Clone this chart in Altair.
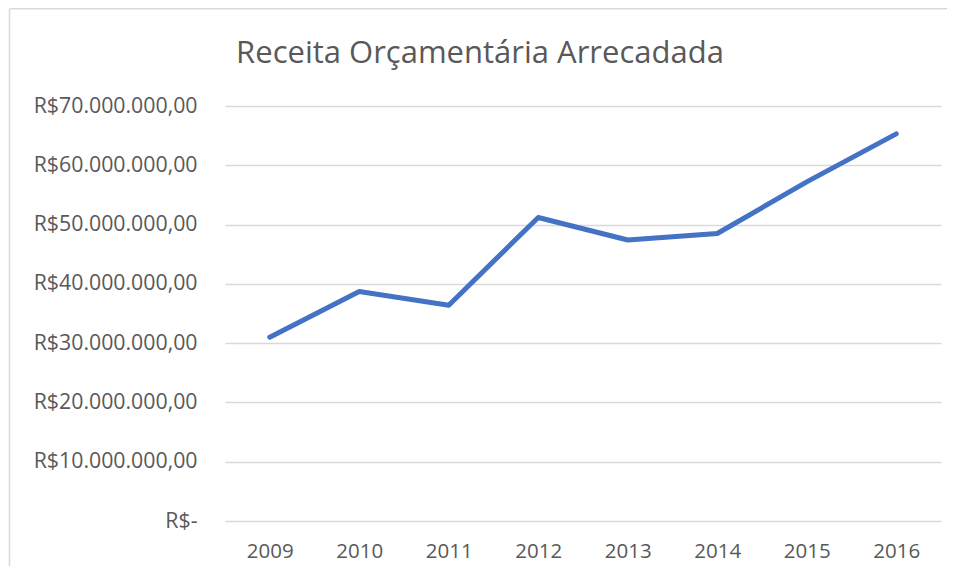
import altair as alt
import pandas as pd

years = ["2009", "2010", "2011", "2012", "2013", "2014", "2015", "2016"]
receita = [31.0e6, 38.7e6, 36.4e6, 51.2e6, 47.4e6, 48.5e6, 57.2e6, 65.3e6]
y_ticks = [0, 10e6, 20e6, 30e6, 40e6, 50e6, 60e6, 70e6]
title_text = "Receita Orçamentária Arrecadada"

df = pd.DataFrame({"ano": years, "valor": receita})

FONT = "Open Sans"
GRAY = "#595959"
BORDER = "#d9d9d9"

base = alt.Chart(df)

line = base.mark_line(color="#4472C4", strokeWidth=5, strokeCap="round", strokeJoin="round").encode(
    x=alt.X("ano:O", sort=years, scale=alt.Scale(padding=0.5),
            axis=alt.Axis(title=None, labelAngle=0, domain=False, ticks=False,
                          labelPadding=20, labelFontSize=20.5, labelFont=FONT,
                          labelColor=GRAY, grid=False)),
    y=alt.Y("valor:Q", scale=alt.Scale(domain=[0, 70e6], nice=False),
            axis=alt.Axis(title=None, values=y_ticks, domain=False, ticks=False,
                          labelPadding=28, labelFontSize=21.3, labelFont=FONT,
                          labelColor=GRAY, gridColor="#d9d9d9", gridWidth=1.5,
                          labelExpr="datum.value == 0 ? 'R$-' : 'R$' + (datum.value / 1000000) + '.000.000,00'")),
)

title_df = pd.DataFrame({"t": [title_text]})
title = alt.Chart(title_df).mark_text(
    font=FONT, fontSize=31, color=GRAY, align="center", baseline="alphabetic"
).encode(text="t:N", x=alt.value(480 - 225), y=alt.value(63 - 106))

border_df = pd.DataFrame({"b": [1]})
left_border = alt.Chart(border_df).mark_rule(color=BORDER, strokeWidth=1.5).encode(
    x=alt.value(9.5 - 225), y=alt.value(8.8 - 106), y2=alt.value(600))
top_border = alt.Chart(border_df).mark_rule(color=BORDER, strokeWidth=1.5).encode(
    x=alt.value(9.5 - 225), x2=alt.value(800), y=alt.value(8.8 - 106))

chart = alt.layer(left_border, top_border, line, title).properties(
    width=716, height=415,
    autosize=alt.AutoSizeParams(type="none"),
    padding={"left": 217, "top": 98, "right": 6, "bottom": 45},
).configure(background="white").configure_view(stroke=None)

chart.save("out.html", embed_options={"renderer": "svg", "actions": False})
